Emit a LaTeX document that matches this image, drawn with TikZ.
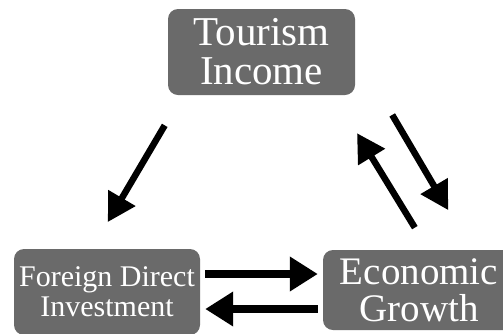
\documentclass[tikz,border=0pt]{standalone}
\usepackage{fontspec}
\setmainfont{Liberation Serif}
\usetikzlibrary{arrows.meta,calc}
\definecolor{boxgray}{RGB}{106,106,106}

\begin{document}
\begin{tikzpicture}[x=1pt,y=-1pt,
    box/.style={fill=boxgray, text=white, rounded corners=10pt, align=center, inner sep=0pt},
    arr/.style={line width=8pt, -{Triangle[length=28pt,width=33pt]}},
    darr/.style={line width=6.5pt, -{Triangle[length=28pt,width=30pt]}}]
    \useasboundingbox (0,0) rectangle (503,333);
    % boxes
    \node [box, minimum width=187pt, minimum height=86pt, font=\rmfamily\fontsize{41}{39}\selectfont] (tourism) at (261.5,52) {Tourism\\Income};
    \node [box, minimum width=186pt, minimum height=86pt, font=\rmfamily\fontsize{30}{30}\selectfont] (fdi) at (107,292) {Foreign Direct\\Investment};
    \node [box, minimum width=192pt, minimum height=80pt, font=\rmfamily\fontsize{39}{37}\selectfont] (growth) at (419,290) {Economic\\Growth};
    % arrows
    \draw [darr, shorten <=35pt, shorten >=31pt] ([xshift=-79pt]tourism.south) -- ([xshift=-15pt]fdi.north);
    \draw [darr, shorten <=73pt, shorten >=46pt] (tourism.east) -- ([xshift=52.6pt]growth.north);
    \draw [darr, shorten <=26pt, shorten >=44.5pt] ([xshift=9.4pt]growth.north) -- ([xshift=72.3pt]tourism.south);
    \draw [arr, shorten <=5pt, shorten >=5pt] (fdi.east |- 0,274) -- (growth.west |- 0,274);
    \draw [arr, shorten <=5pt, shorten >=5pt] (growth.west |- 0,309) -- (fdi.east |- 0,309);
\end{tikzpicture}
\end{document}
